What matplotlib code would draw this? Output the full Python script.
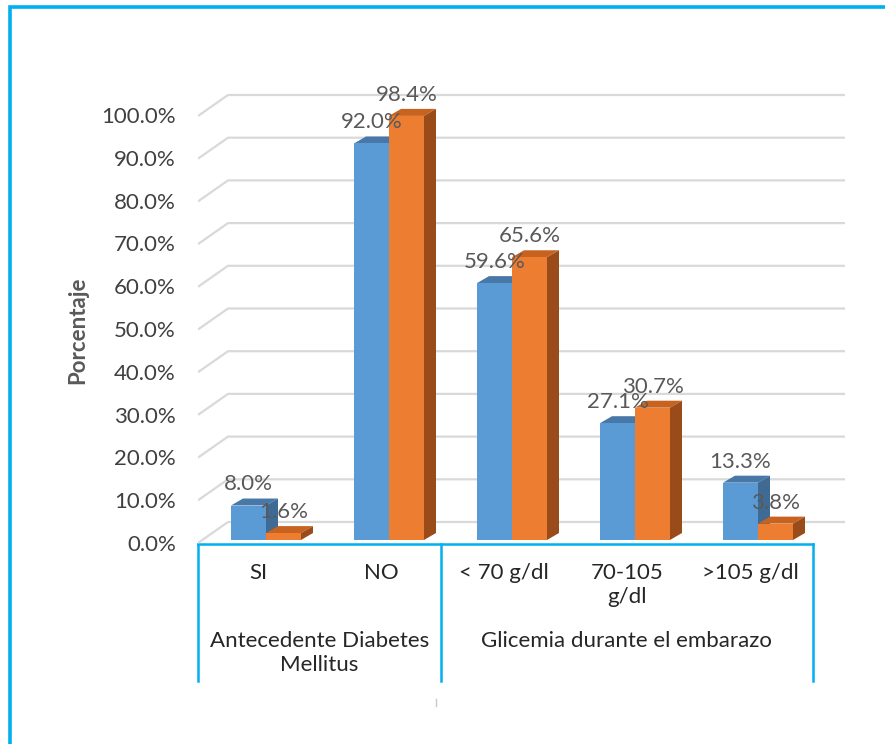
import matplotlib
matplotlib.use("Agg")
import matplotlib.pyplot as plt
from matplotlib.patches import Polygon
import numpy as np

# ---- data ----
categories = ["SI", "NO", "< 70 g/dl", "70-105\ng/dl", ">105 g/dl"]
serie_azul = [8.0, 92.0, 59.6, 27.1, 13.3]
serie_naranja = [1.6, 98.4, 65.6, 30.7, 3.8]
grupos = ["Antecedente Diabetes\nMellitus", "Glicemia durante el embarazo"]
grupo_tamanos = [2, 3]
yticks = [0, 10, 20, 30, 40, 50, 60, 70, 80, 90, 100]

FONT = ["Lato", "DejaVu Sans"]
plt.rcParams["font.family"] = FONT
FS = 16

W, H = 885, 744
fig = plt.figure(figsize=(W / 100, H / 100), dpi=100)

# overlay axes in pixel coordinates for frame, table and labels
ov = fig.add_axes([0, 0, 1, 1])
ov.set_xlim(0, W)
ov.set_ylim(H, 0)
ov.axis("off")

# main plotting axes (category units on x, percent on y)
PX_CAT = 123.0          # pixels per category
X0_PX = 266.0           # pixel centre of first category
Y0_PX = 540.0           # pixel of 0 %
PX_PCT = 4.31           # pixels per percent
left_px, right_px, top_px, bot_px = 198, 845, 80, 560
ax = fig.add_axes([left_px / W, (H - bot_px) / H,
                   (right_px - left_px) / W, (bot_px - top_px) / H])
ax.set_xlim((left_px - X0_PX) / PX_CAT, (right_px - X0_PX) / PX_CAT)
ax.set_ylim((Y0_PX - bot_px) / PX_PCT, (Y0_PX - top_px) / PX_PCT)
ax.axis("off")
ax.patch.set_alpha(0)

x = np.arange(len(categories))
w = 35 / PX_CAT          # bar width
dx = 12 / PX_CAT         # depth offset along x
dy = 7 / PX_PCT          # depth offset along y

# gridlines: short oblique segment on the side wall, then the back wall
xl, _ = ax.get_xlim()
x_back = (228 - X0_PX) / PX_CAT
x_end = (845 - X0_PX) / PX_CAT
grid_c = "#D9D9D9"
for t in yticks:
    yf = (Y0_PX - (543 - 4.27 * t)) / PX_PCT
    yb = (Y0_PX - (522 - 4.27 * t)) / PX_PCT
    ax.plot([xl, x_back, x_end], [yf, yb, yb], color=grid_c, lw=1.6,
            zorder=1, solid_capstyle="butt")

azul = ("#5B9BD5", "#4878A8", "#3E6A94")
naranja = ("#ED7D31", "#C8621F", "#9A4B1A")


def bar3d(xs, vals, cols, z):
    ax.bar(xs, vals, width=w, color=cols[0], zorder=z + 1, linewidth=0)
    for xc, v in zip(xs, vals):
        x1, x2 = xc - w / 2, xc + w / 2
        top = Polygon([(x1, v), (x1 + dx, v + dy), (x2 + dx, v + dy), (x2, v)],
                      closed=True, facecolor=cols[1], edgecolor="none", zorder=z)
        side = Polygon([(x2, 0), (x2 + dx, dy), (x2 + dx, v + dy), (x2, v)],
                       closed=True, facecolor=cols[2], edgecolor="none", zorder=z)
        ax.add_patch(top)
        ax.add_patch(side)


bar3d(x - w / 2, serie_azul, azul, 2)
bar3d(x + w / 2, serie_naranja, naranja, 4)

lab_c = "#595959"
for xs, vals in ((x - w / 2, serie_azul), (x + w / 2, serie_naranja)):
    for xc, v in zip(xs, vals):
        ax.text(xc, v + 4.9, f"{v:.1f}%", ha="center", va="center",
                fontsize=FS, color=lab_c, zorder=10)

# y tick labels at the front edge of each gridline
for t in yticks:
    ov.text(176, 545 - 4.28 * t, f"{t:.1f}%", ha="right", va="center",
            fontsize=FS, color="#404040")

ov.text(78, 330, "Porcentaje", rotation=90, ha="center", va="center",
        fontsize=FS, fontweight="bold", color=lab_c)

# category table below the plot
line_c = "#00B0F0"
tbl_left, tbl_right, tbl_top, tbl_bot = 198, 813, 544, 681
ov.plot([tbl_left, tbl_right], [tbl_top, tbl_top], color=line_c, lw=1.8)
bounds = [tbl_left]
cat_px = X0_PX + x * PX_CAT
acc = 0
for n in grupo_tamanos[:-1]:
    acc += n
    bounds.append((cat_px[acc - 1] + cat_px[acc]) / 2 - 10)
bounds.append(tbl_right)
for b in bounds:
    ov.plot([b, b], [tbl_top, tbl_bot], color=line_c, lw=1.8)

for cx, c in zip(cat_px, categories):
    ov.text(cx - 8, 563, c, ha="center", va="top", fontsize=FS,
            color="#262626", linespacing=1.25)

for i, g in enumerate(grupos):
    gx = (bounds[i] + bounds[i + 1]) / 2
    ov.text(gx, 631, g, ha="center", va="top", fontsize=FS,
            color="#262626", linespacing=1.25)

ov.plot([436, 436], [699, 706], color="#C8C8C8", lw=1)

# outer frame
ov.plot([10, 10, W], [H, 7, 7], color=line_c, lw=2.6, solid_joinstyle="miter")

fig.savefig("out.png", dpi=100)
